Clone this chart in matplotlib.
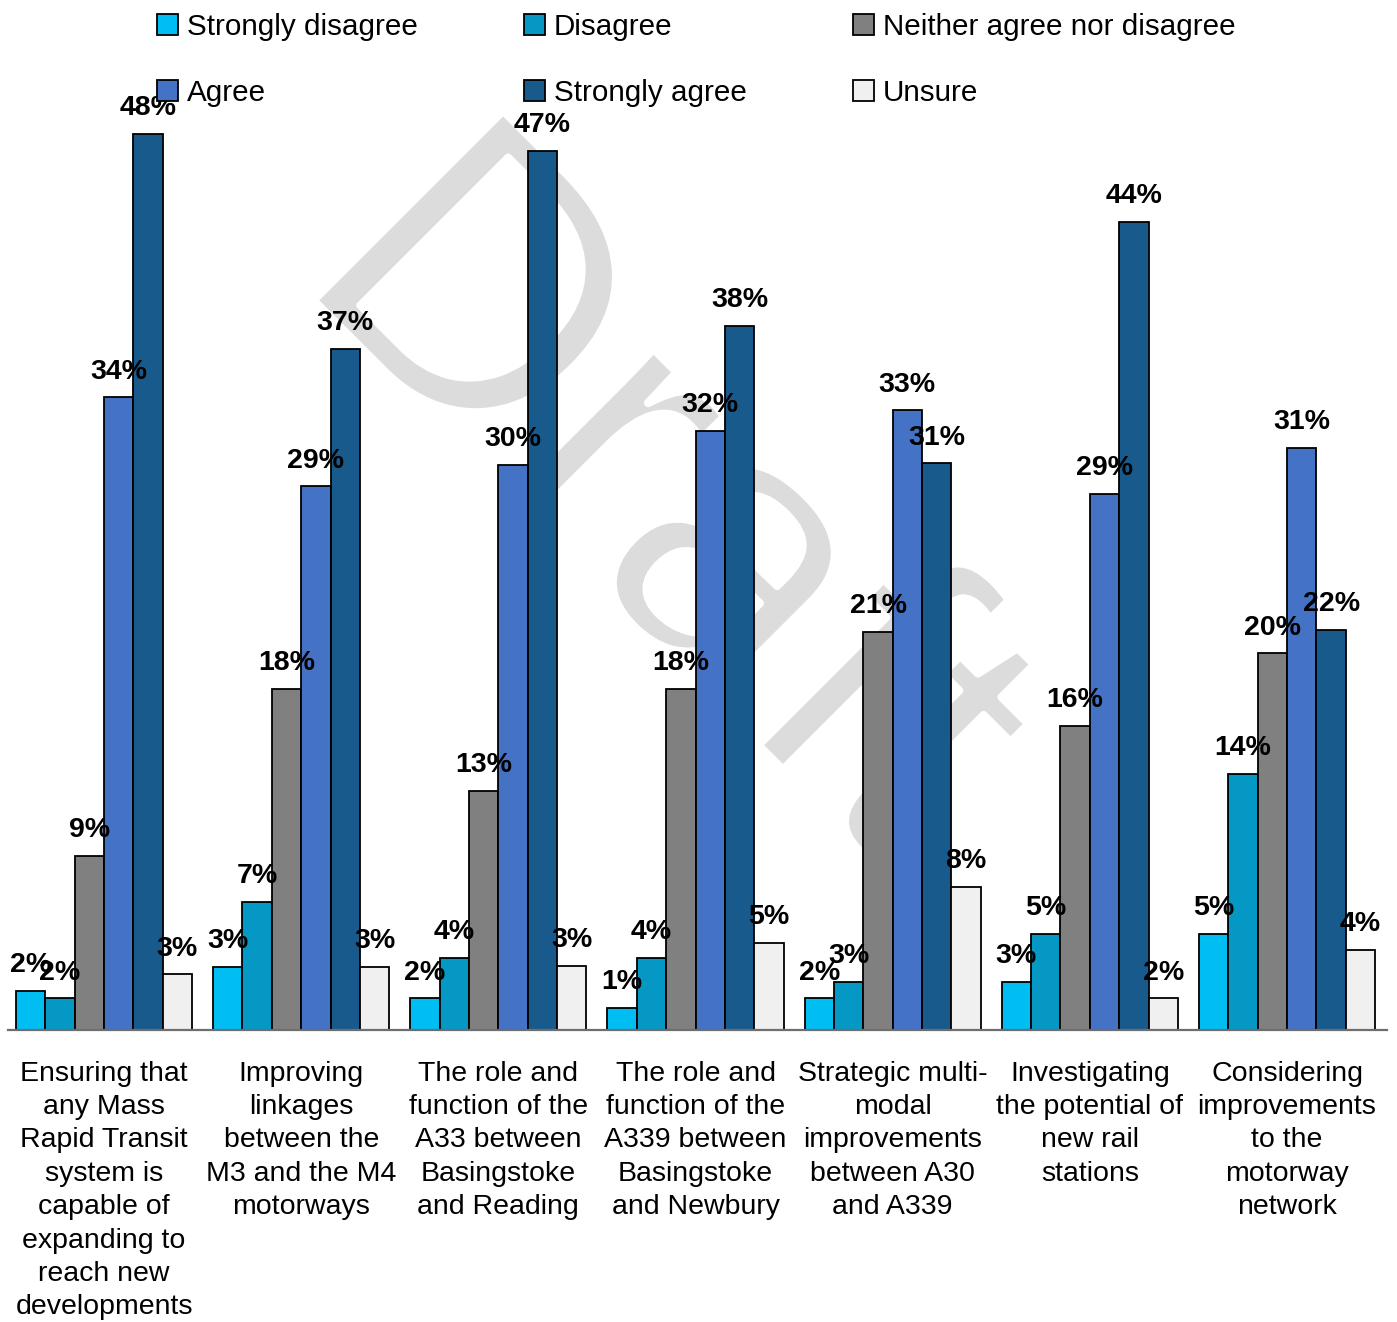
import numpy as np
import matplotlib
matplotlib.use("Agg")
import matplotlib.pyplot as plt
import matplotlib.patheffects as pe
from matplotlib.patches import Patch

plt.rcParams['font.family'] = ['Liberation Sans', 'DejaVu Sans']

# survey responses (% of respondents) per scheme
categories = [
    "Ensuring that\nany Mass\nRapid Transit\nsystem is\ncapable of\nexpanding to\nreach new\ndevelopments",
    "Improving\nlinkages\nbetween the\nM3 and the M4\nmotorways",
    "The role and\nfunction of the\nA33 between\nBasingstoke\nand Reading",
    "The role and\nfunction of the\nA339 between\nBasingstoke\nand Newbury",
    "Strategic multi-\nmodal\nimprovements\nbetween A30\nand A339",
    "Investigating\nthe potential of\nnew rail\nstations",
    "Considering\nimprovements\nto the\nmotorway\nnetwork",
]
responses = ["Strongly disagree", "Disagree", "Neither agree nor disagree",
             "Agree", "Strongly agree", "Unsure"]

strongly_disagree = [2.1, 3.4, 1.7, 1.2, 1.7, 2.6, 5.2]
disagree = [1.7, 6.9, 3.9, 3.9, 2.6, 5.2, 13.8]
neither = [9.4, 18.4, 12.9, 18.4, 21.45, 16.4, 20.3]
agree = [34.1, 29.3, 30.45, 32.3, 33.4, 28.9, 31.4]
strongly_agree = [48.3, 36.7, 47.4, 37.95, 30.55, 43.55, 21.55]
unsure = [3.0, 3.4, 3.45, 4.7, 7.7, 1.7, 4.3]

series = [strongly_disagree, disagree, neither, agree, strongly_agree, unsure]
colors = ["#00BEF2", "#0598C4", "#808080", "#4472C4", "#195A8D", "#F0F0F0"]

fig = plt.figure(figsize=(13.97, 13.22), dpi=100)
ax = fig.add_axes([8 / 1397, 292 / 1322, 1379 / 1397, 927.5 / 1322])
ax.patch.set_alpha(0)

x = np.arange(len(categories))
w = 0.149
for i, (vals, c) in enumerate(zip(series, colors)):
    pos = x + (i - 2.5) * w
    ax.bar(pos, vals, w, color=c, edgecolor="black", linewidth=1.3,
           label=responses[i], zorder=2)
    for xp, v in zip(pos, vals):
        ax.annotate(f"{round(v):.0f}%", (xp, v), xytext=(0, 13.5),
                    textcoords="offset points", ha="center", va="baseline",
                    fontsize=20.5, fontweight="bold", zorder=5)

# watermark behind the bars (white edge stroke thins the letters)
ax.text(660 / 1397, 1 - 505 / 1322, "Draft", transform=fig.transFigure,
        rotation=-45, fontsize=280, color="#DCDCDC", ha="center", va="center",
        rotation_mode="anchor", zorder=0.5,
        path_effects=[pe.Stroke(linewidth=5.5, foreground="white")])

ax.set_xlim(-0.487, 6.507)
ax.set_ylim(0, 50)
ax.set_xticks(x)
ax.set_xticklabels(categories, fontsize=20.5, linespacing=1.37)
ax.tick_params(axis="x", length=0, pad=22)
ax.set_yticks([])
for s in ["top", "right", "left"]:
    ax.spines[s].set_visible(False)
ax.spines["bottom"].set_color("#6E6E6E")
ax.spines["bottom"].set_linewidth(1.6)
ax.spines["bottom"].set_zorder(3)

# legend: 3 columns, two rows
handles = [Patch(facecolor=c, edgecolor="black", linewidth=1.3) for c in colors]
order = [0, 3, 1, 4, 2, 5]
fig.legend([handles[k] for k in order], [responses[k] for k in order],
           loc="upper left", bbox_to_anchor=(157 / 1397, 1 - 13 / 1322),
           ncol=3, frameon=False, fontsize=21.3, borderpad=0, borderaxespad=0,
           handlelength=0.7, handleheight=0.7, handletextpad=0.3,
           columnspacing=3.6, labelspacing=1.28)

fig.savefig("out.png", dpi=100)
